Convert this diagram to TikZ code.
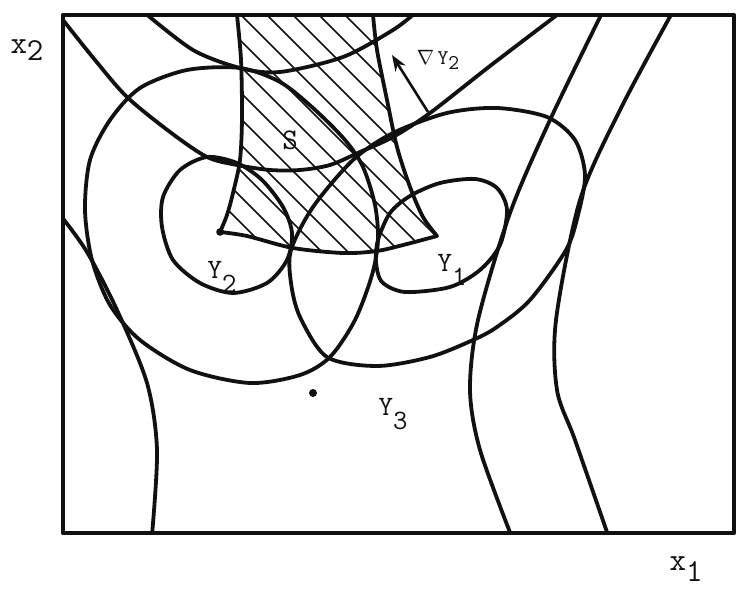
\documentclass[tikz,border=0pt]{standalone}
\usepackage{tikz}
\usetikzlibrary{positioning, arrows.meta, calc}
\definecolor{inkline}{HTML}{111111}
\newcommand{\sublab}[3][-0.5em]{#2\raisebox{#1}{#3}}

\begin{document}
\begin{tikzpicture}[x=1pt, y=-1pt,
  contour/.style={inkline, line width=3.8pt, line cap=round, line join=round},
  hatchline/.style={inkline, line width=1.5pt},
  lbl/.style={inkline, font=\ttfamily\fontsize{28}{28}\selectfont, inner sep=0pt}]
\useasboundingbox (0,0) rectangle (736,593);

% hatched feasible set S
\path[save path=\Sregion] (237,15) -- plot[smooth] coordinates {(237,15) (241,60) (242,117) (240,160) (233,193) (227,215) (220,232)}
  -- plot[smooth] coordinates {(220,232) (247,236) (293,248) (343,253) (377,251) (407,244) (437,236)}
  -- plot[smooth] coordinates {(437,236) (423,217) (410,187) (397,147) (387,100) (377,50) (373,15)} -- cycle;
\begin{scope}
\clip[use path=\Sregion];
\foreach \k in {0,...,22}
  \draw[hatchline] (-60+26*\k,0) -- ++(300,300);
\end{scope}
\draw[contour, use path=\Sregion];
\fill[inkline] (220,232) circle (3.8);

\begin{scope}
\clip (63,15) rectangle (734,533);
% level curves
\draw[contour] plot[smooth] coordinates {(63,20) (95,60) (127,97) (170,132) (207,157) (237,165) (270,170) (300,170) (330,165) (360,152) (393,137) (430,113) (490,66) (557,15)};
\draw[contour] plot[smooth] coordinates {(145,13) (193,50) (240,68) (280,72) (343,57) (393,30) (415,13)};
% Y2
\draw[contour] plot[smooth cycle] coordinates {(240,68) (187,70) (140,88) (110,120) (90,160) (85,210) (92,260) (110,305) (140,340) (190,370) (250,383) (300,375) (330,357) (355,320) (372,275) (378,240) (375,205) (363,167) (345,140) (313,108) (280,82)};
\draw[contour] plot[smooth cycle] coordinates {(207,157) (180,170) (163,197) (162,227) (173,260) (200,283) (233,293) (267,283) (287,260) (292,233) (283,207) (262,180) (237,163)};
% Y1
\draw[contour] plot[smooth cycle] coordinates {(378,240) (390,213) (410,196) (440,183) (475,179) (497,188) (507,210) (500,245) (480,270) (450,287) (405,292) (382,282) (376,262)};
\draw[contour] plot[smooth cycle] coordinates {(393,133) (447,113) (497,108) (547,117) (575,140) (585,175) (578,215) (566,250) (530,300) (497,327) (473,340) (430,357) (377,366) (327,357) (300,317) (291,283) (291,250) (313,207) (353,160)};
% Y3
\draw[contour] plot[smooth] coordinates {(61,216) (87,252) (117,310) (147,383) (157,450) (152,535)};
\draw[contour] plot[smooth] coordinates {(602,13) (550,120) (510,213) (478,320) (470,390) (480,450) (511,535)};
\draw[contour] plot[smooth] coordinates {(672,13) (620,110) (580,200) (556,320) (557,390) (575,440) (608,535)};
\end{scope}

% frame
\draw[contour, line width=4.2pt, line cap=butt] (63,15) rectangle (734,533);

% gradient arrow
\coordinate (gradfoot) at (428,112);
\coordinate (gradtip) at (392,55);
\draw[inkline, line width=2.6pt, -{Stealth[length=16pt, width=12pt]}] (gradfoot) -- (gradtip);

\fill[inkline] (313,393) circle (4) coordinate (optpt);

% labels
\node[lbl, font=\ttfamily\fontsize{30}{30}\selectfont] (lblS) at (290,140) {S};
\node[lbl, font=\ttfamily\fontsize{21}{21}\selectfont] (lblgrad) at (438,60) {$\nabla$\,\sublab[-0.25em]{Y}{2}};
\node[lbl] (lblYtwo) at (222,277) {\sublab{Y}{2}};
\node[lbl] (lblYone) at (452,270) {\sublab{Y}{1}};
\node[lbl] (lblYthree) at (393,414) {\sublab{Y}{3}};
\node[lbl, font=\ttfamily\fontsize{32}{32}\selectfont] (lblxtwo) at (27,50) {\sublab[-0.2em]{x}{2}};
\node[lbl, font=\ttfamily\fontsize{32}{32}\selectfont] (lblxone) at (686,569) {\sublab[-0.35em]{x}{1}};
\end{tikzpicture}
\end{document}
